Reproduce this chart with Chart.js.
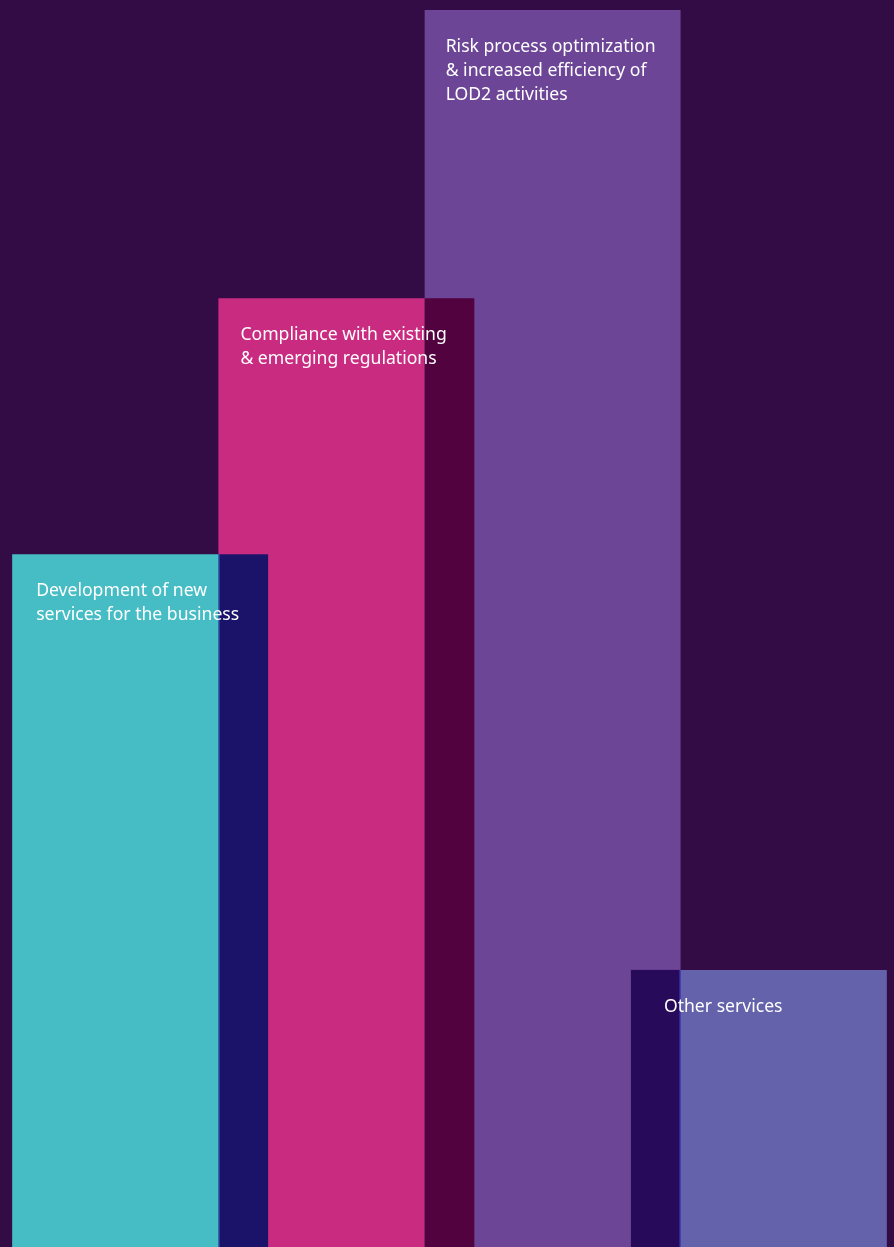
<!DOCTYPE html>
<html>
<head>
<meta charset="utf-8">
<script src="https://cdn.jsdelivr.net/npm/chart.js@4/dist/chart.umd.min.js"></script>
<style>
    html, body { margin: 0; padding: 0; background: #330c45; }
    #wrap { width: 894px; height: 1247px; }
</style>
</head>
<body>
<div id="wrap"><canvas id="serviceChart" width="894" height="1247"></canvas></div>
<script>
//------------------------------------
// Data
//------------------------------------

const categories = [
    ["Development of new", "services for the business"],
    ["Compliance with existing", "& emerging regulations"],
    ["Risk process optimization", "& increased efficiency of", "LOD2 activities"],
    ["Other services"]
];

const values = [56.0, 76.7, 100, 22.4];

const barColors = ["#46bcc4", "#c92b80", "#6c4596", "#6462aa"];

// colour where bar i and bar i+1 cover each other
const overlapColors = ["#1b1269", "#52033f", "#270a5a"];

const edgeColors = ["#2f86c8", null, "#4b4fd6"];

//------------------------------------
// Overlaps + labels plugin
//------------------------------------

const overlapPlugin = {
    id: "overlaps",
    afterDatasetsDraw(chart, args, opts) {
        const ctx = chart.ctx;
        const bars = chart.getDatasetMeta(0).data;

        ctx.save();

        for (let i = 0; i < bars.length - 1; i++) {
            const a = bars[i].getProps(["x", "y", "base", "width"], true);
            const b = bars[i + 1].getProps(["x", "y", "base", "width"], true);

            const left = Math.max(a.x - a.width / 2, b.x - b.width / 2);
            const right = Math.min(a.x + a.width / 2, b.x + b.width / 2);
            const top = Math.max(a.y, b.y);
            const bottom = Math.min(a.base, b.base);

            if (right <= left) continue;

            ctx.fillStyle = overlapColors[i];
            ctx.fillRect(left, top, right - left, bottom - top);

            // thin edge where the taller bar is cut
            if (edgeColors[i]) {
                const edgeX = a.y < b.y ? right - 1 : left;
                ctx.fillStyle = edgeColors[i];
                ctx.fillRect(edgeX, top, 1, bottom - top);
            }
        }

        //------------------------------------
        // text in the bars
        //------------------------------------

        ctx.fillStyle = "#ffffff";
        ctx.font = "17.6px 'Noto Sans', 'Open Sans', sans-serif";
        ctx.textBaseline = "middle";
        ctx.textAlign = "left";

        bars.forEach(function (bar, i) {
            const p = bar.getProps(["x", "y", "width"], true);
            const lines = chart.data.labels[i];
            const x0 = p.x - p.width / 2 + opts.padX[i];
            lines.forEach(function (line, k) {
                ctx.fillText(line, x0, p.y + opts.padY + k * opts.lineHeight);
            });
        });

        ctx.restore();
    }
};

//------------------------------------
// Chart
//------------------------------------

window.addEventListener("load", function () {

    const ctx = document.getElementById("serviceChart");

    new Chart(ctx, {
        type: "bar",
        data: {
            labels: categories,
            datasets: [{
                data: values,
                backgroundColor: barColors,
                borderWidth: 0,
                barPercentage: 1.241,
                categoryPercentage: 1,
                clip: false
            }]
        },
        options: {
            responsive: false,
            animation: false,
            layout: {
                padding: { left: 37, right: 32, top: 10, bottom: 0 }
            },
            scales: {
                x: { display: false, offset: true },
                y: { display: false, min: 0, max: 100 }
            },
            plugins: {
                legend: { display: false },
                tooltip: { enabled: false },
                overlaps: {
                    padX: [24, 22, 21, 33],
                    padY: 37,
                    lineHeight: 24
                }
            }
        },
        plugins: [overlapPlugin]
    });

});
</script>
</body>
</html>
